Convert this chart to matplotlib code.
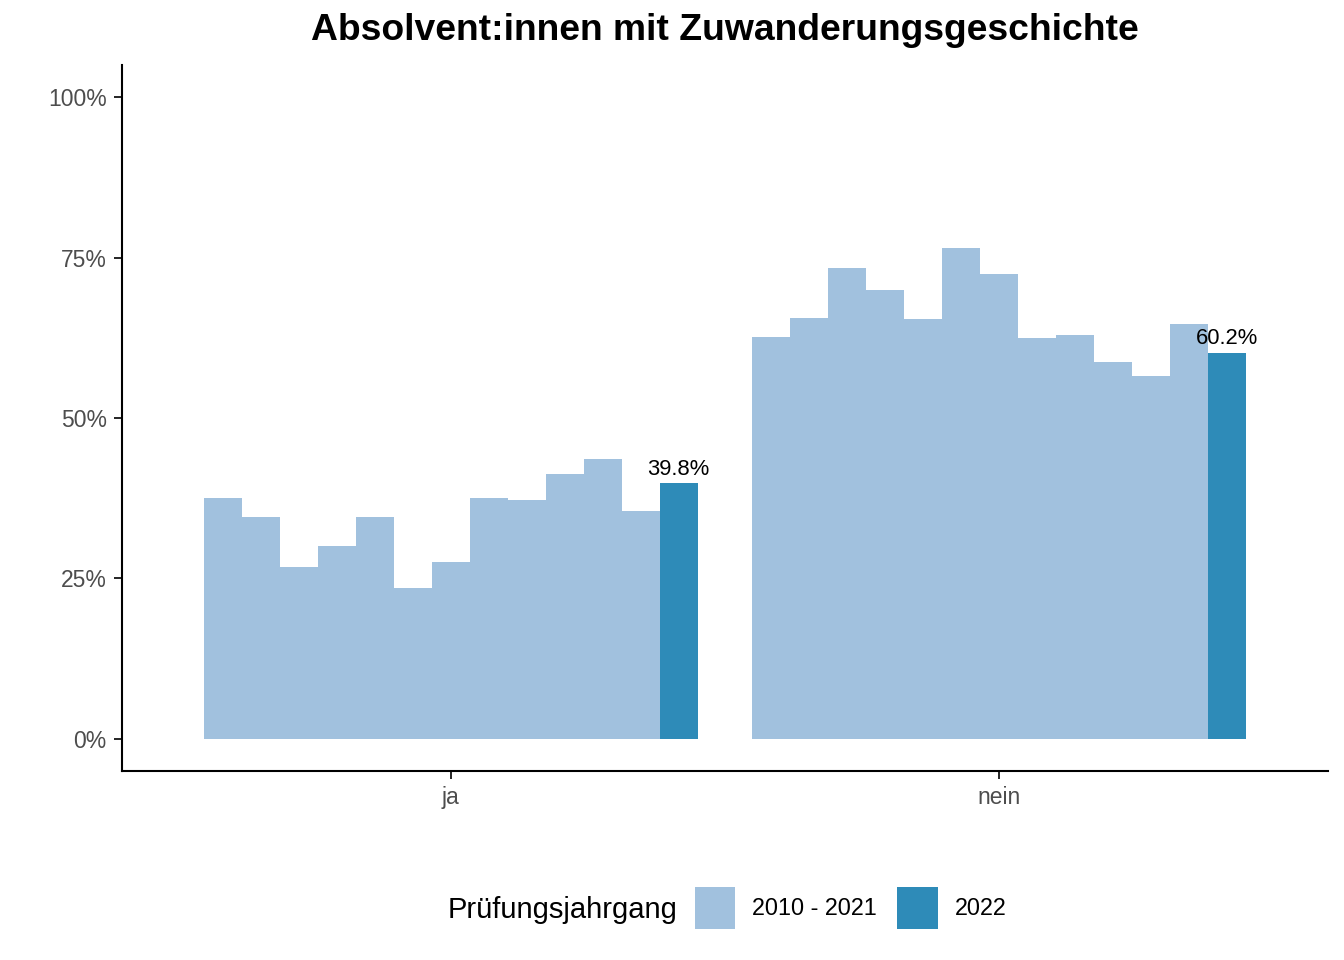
import numpy as np
import matplotlib.pyplot as plt
from matplotlib.patches import Patch

plt.rcParams['font.family'] = ['Liberation Sans', 'DejaVu Sans']

# data
categories = ['ja', 'nein']
years = list(range(2010, 2023))
ja = [37.5, 34.6, 26.8, 30.1, 34.6, 23.5, 27.6, 37.6, 37.2, 41.3, 43.6, 35.5, 39.8]
nein = [62.6, 65.6, 73.4, 69.9, 65.4, 76.5, 72.4, 62.5, 62.9, 58.7, 56.5, 64.6, 60.2]
values = [ja, nein]
legend_labels = ['2010 - 2021', '2022']

light = '#a1c1de'
dark = '#2e8bb8'

fig = plt.figure(figsize=(13.44, 9.6), dpi=100)
ax = fig.add_axes([122/1344, 1 - 771/960, (1328-122)/1344, (771-65)/960])

n = len(years)
w = 0.9 / n
for i, cat in enumerate(categories):
    xs = (i + 1) - 0.45 + w * (np.arange(n) + 0.5)
    cols = [dark if y == 2022 else light for y in years]
    ax.bar(xs, values[i], width=w, color=cols, linewidth=0)
    ax.text(xs[-1], values[i][-1] + 0.6, f'{values[i][-1]:.1f}%', ha='center', va='bottom',
            fontsize=15.8, color='black')

ax.set_xlim(0.4, 2.6)
ax.set_ylim(-5, 105)
ax.set_xticks([1, 2])
ax.set_xticklabels(categories)
ax.set_yticks([0, 25, 50, 75, 100])
ax.set_yticklabels(['0%', '25%', '50%', '75%', '100%'])
ax.tick_params(labelsize=16.5, labelcolor='#4d4d4d', length=6, width=1.2, color='black', pad=5)
for s in ['top', 'right']:
    ax.spines[s].set_visible(False)
for s in ['left', 'bottom']:
    ax.spines[s].set_linewidth(1.5)

fig.text(725/1344, 1 - 31/960, 'Absolvent:innen mit Zuwanderungsgeschichte', ha='center', va='center',
         fontsize=26.8, fontweight='bold')

fig.text(677/1344, 1 - 910/960, 'Prüfungsjahrgang', ha='right', va='center', fontsize=21)
handles = [Patch(facecolor=light, edgecolor='none'), Patch(facecolor=dark, edgecolor='none')]
fig.legend(handles, legend_labels, loc='center left', bbox_to_anchor=(695/1344, 1 - 908/960),
           ncol=2, frameon=False, fontsize=16.8, handlelength=1.72, handleheight=2.4,
           handletextpad=0.74, columnspacing=0.87, borderaxespad=0, borderpad=0)

fig.savefig('out.png', dpi=100)
